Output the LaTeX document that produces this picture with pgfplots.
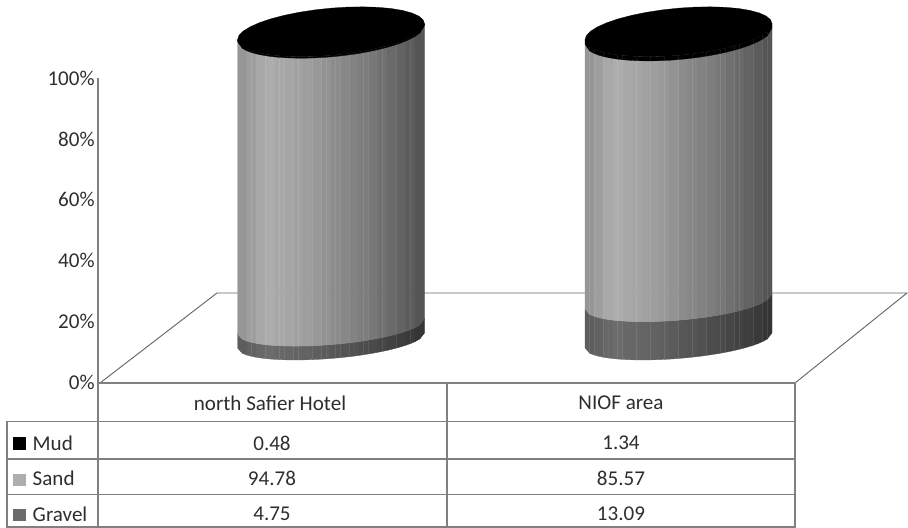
\documentclass[border=0pt]{standalone}
\usepackage{pgfplots}
\usepackage{fontspec}
\setmainfont{Carlito}
\pgfplotsset{compat=1.18}
\definecolor{rule}{gray}{0.50}
\definecolor{ink}{gray}{0.18}

% Height in the frame of a stack value v on a cylinder, slightly foreshortened
\newcommand\levelY[1]{(187.5+2.965*#1/(1-0.00039*#1))}
% Point on the rim ellipse at level v: half height b, shear s
\newcommand\rimY[3]{\levelY{#1}+(7.5+0.005*#1)*cos(#2)+#3*(18+0.056*#1)*sin(#2)}

% One stacked part of a cylinder: centre x, lower value, upper value, brightness factor.
% Twenty facets of equal width, each drawn in two slices to follow the rim.
\newcommand\cylpart[4]{%
  \foreach \i/\g in {0/59,1/62,2/66,3/68,4/66,5/65,6/63.5,7/62,8/60,9/57.5,
                     10/55,11/53,12/51,13/49,14/47,15/44,16/41.5,17/39,18/36,19/33.5}{%
    \foreach \j in {0,1}{%
      \pgfmathsetmacro\ta{acos(max(-1,min(1,2*(2*\i+\j)/40-1)))}%
      \pgfmathsetmacro\tb{acos(max(-1,min(1,2*(2*\i+\j+1)/40-1)))}%
      \pgfmathsetmacro\xa{#1+93.5*(2*(2*\i+\j)/40-1)}%
      \pgfmathsetmacro\xb{#1+93.5*(2*(2*\i+\j+1)/40-1)}%
      \pgfmathsetmacro\yla{\rimY{#2}{\ta}{-1}}%
      \pgfmathsetmacro\ylb{\rimY{#2}{\tb}{-1}}%
      \pgfmathsetmacro\yua{\rimY{#3}{\ta}{-1}}%
      \pgfmathsetmacro\yub{\rimY{#3}{\tb}{-1}}%
      \pgfmathsetmacro\shade{#4*\g}%
      \edef\next{\noexpand\addplot[fill=white!\shade!black,draw=white!\shade!black,line width=0.2pt]
        coordinates {(\xa,\yla)(\xb,\ylb)(\xb,\yub)(\xa,\yua)} -- cycle;}%
      \next
    }%
  }%
}
% Top disc of a cylinder
\newcommand\topdisc[1]{%
  \gdef\pts{}%
  \foreach \t in {0,10,...,350}{%
    \pgfmathsetmacro\xa{#1+93.5*cos(\t)}%
    \pgfmathsetmacro\ya{\rimY{100}{\t}{1}}%
    \xdef\pts{\pts(\xa,\ya)}%
  }%
  \edef\next{\noexpand\addplot[fill=black,draw=black,line width=0.2pt] coordinates {\pts} -- cycle;}%
  \next
}
% Whole cylinder: centre x, gravel, sand, mud
\newcommand\cylinder[4]{%
  \pgfmathsetmacro\sandtop{#2+#3}%
  \cylpart{#1}{0}{#2}{0.62}%
  \cylpart{#1}{#2}{\sandtop}{1}%
  \cylpart{#1}{\sandtop}{100}{0}%
  \topdisc{#1}%
}

\begin{document}
\begin{tikzpicture}
\useasboundingbox (0pt,0pt) rectangle (681pt,396pt);
\begin{axis}[
  at={(0pt,0pt)}, anchor=south west, scale only axis,
  width=681pt, height=396pt,
  xmin=0, xmax=908, ymin=0, ymax=528,
  hide axis, clip=false,
  nodes={font=\fontsize{15.8}{18}\selectfont, text=ink},
]
  % Floor of the plot
  \addplot[draw=rule!80!black,line width=0.7pt] coordinates {(100,145)(217,235)(907,235)(795,145)};
  % Table grid
  \addplot[draw=rule,line width=1.3pt] coordinates {(98,145)(795,145)(795,0)};
  \addplot[draw=rule,line width=1.3pt] coordinates {(447,145)(447,0)};
  \addplot[draw=rule,line width=1.3pt] coordinates {(98,145)(98,0)};
  \addplot[draw=rule,line width=1.3pt] coordinates {(7,0)(7,106.5)(795,106.5)};
  \addplot[draw=rule,line width=1.3pt] coordinates {(7,69)(795,69)};
  \addplot[draw=rule,line width=1.3pt] coordinates {(7,33.5)(795,33.5)};
  \addplot[draw=rule,line width=1.3pt] coordinates {(7,1)(795,1)};

  % Stacked cylinders: gravel, sand, mud
  \cylinder{331}{4.75}{94.78}{0.47}
  \cylinder{678.5}{13.09}{85.57}{1.34}

  % Legend keys inside the table
  \addplot[fill=black,draw=none] coordinates {(13,78)(26,78)(26,91)(13,91)} -- cycle;
  \addplot[fill=white!68!black,draw=none] coordinates {(13,42)(26,42)(26,54)(13,54)} -- cycle;
  \addplot[fill=white!42!black,draw=none] coordinates {(13,7)(26,7)(26,19)(13,19)} -- cycle;

  % Table text
  \node at (axis cs:270,125) {north Safier Hotel};
  \node at (axis cs:621,125) {NIOF area};
  \node[anchor=west] at (axis cs:28,85) {Mud};
  \node[anchor=west] at (axis cs:28,50) {Sand};
  \node[anchor=west] at (axis cs:28,14) {Gravel};
  \node at (axis cs:272,85) {0.48};
  \node at (axis cs:621,85) {1.34};
  \node at (axis cs:272,50) {94.78};
  \node at (axis cs:621,50) {85.57};
  \node at (axis cs:272,14) {4.75};
  \node at (axis cs:621,14) {13.09};
\end{axis}
% Percentage scale
\begin{axis}[
  at={(73.5pt,109.1pt)}, anchor=south west, scale only axis,
  width=20pt, height=228.4pt,
  xmin=0, xmax=1, ymin=0, ymax=100,
  hide x axis, axis y line*=left,
  y axis line style={-,draw=rule,line width=1.2pt},
  ytick={0,20,40,60,80,100}, major tick length=0pt,
  yticklabel={\pgfmathprintnumber{\tick}\%},
  /pgf/number format/assume math mode=true,
  yticklabel style={font=\fontsize{15.8}{18}\selectfont,text=ink,xshift=1pt},
]
\end{axis}
\end{tikzpicture}
\end{document}
